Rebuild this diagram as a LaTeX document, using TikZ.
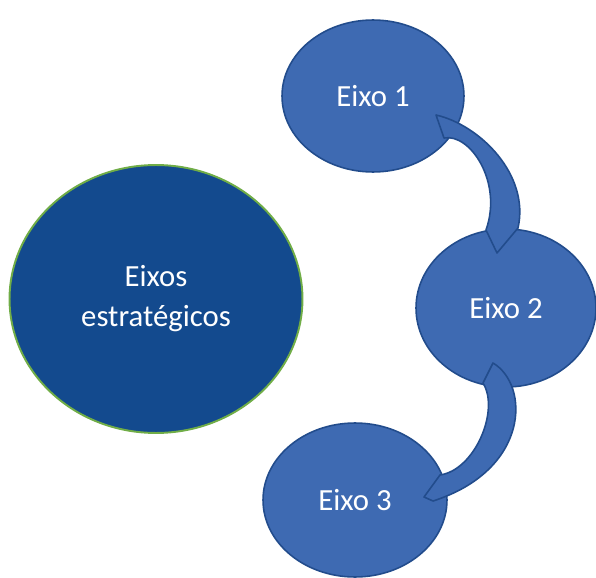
\documentclass[tikz,border=0pt]{standalone}
\usepackage{fontspec}
\setmainfont{Carlito}
\usetikzlibrary{shapes.geometric}
\definecolor{eixofill}{RGB}{62,106,178}
\definecolor{eixoline}{RGB}{34,76,140}
\definecolor{temafill}{RGB}{19,74,142}
\definecolor{temaline}{RGB}{112,173,71}
\begin{document}
\begin{tikzpicture}[x=0.02cm, y=-0.02cm,
    eixo/.style={ellipse, draw=eixoline, fill=eixofill, line width=0.9pt,
      inner sep=0pt, text=white, font=\fontsize{17.5}{22.7}\selectfont},
    tema/.style={ellipse, draw=temaline, fill=temafill, line width=1.1pt,
      inner sep=0pt, text=white, align=center,
      font=\fontsize{17.5}{22.7}\selectfont},
    seta/.style={draw=eixoline, fill=eixofill, line width=0.9pt, line join=round}]
    \useasboundingbox (0,0) rectangle (596,578);
    \node [tema, minimum width=5.86cm, minimum height=5.36cm] (eixos) at (156,299) {Eixos\\estratégicos};
    \node [eixo, minimum width=3.64cm, minimum height=3.04cm] (e1) at (373,96) {Eixo 1};
    \node [eixo, minimum width=3.6cm, minimum height=3.16cm] (e2) at (506,308) {Eixo 2};
    \node [eixo, minimum width=3.68cm, minimum height=3.08cm] (e3) at (355,500) {Eixo 3};
    % curved bands between the axes
    \draw [seta] (436,115) .. controls (480,125) and (530,175) .. (518,228)
      -- (497,253) -- (486,230) .. controls (503,182) and (470,133) .. (444,138) -- cycle;
    \draw [seta] (493,363) .. controls (530,385) and (530,470) .. (433,501)
      -- (424,497) -- (440,475) .. controls (475,470) and (500,410) .. (483,383) -- cycle;
\end{tikzpicture}
\end{document}
